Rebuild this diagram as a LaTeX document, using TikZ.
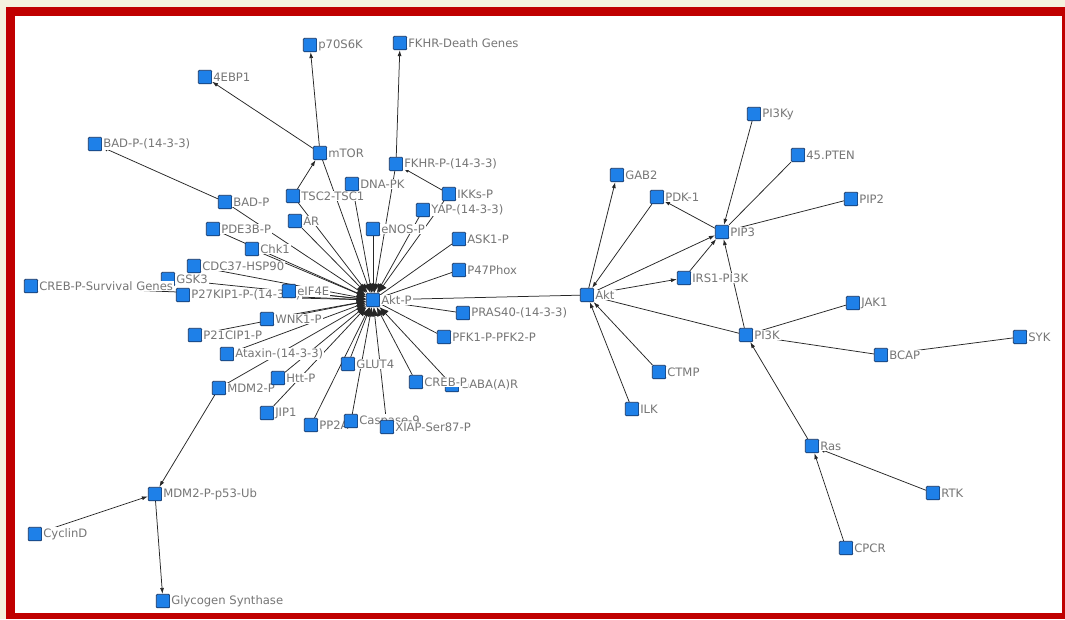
\documentclass[tikz,border=0pt]{standalone}
\usepackage{fontspec}
\setmainfont{DejaVu Sans}
\usetikzlibrary{arrows.meta,backgrounds}

\definecolor{nodeblue}{RGB}{30,128,232}
\definecolor{nodeedge}{RGB}{22,52,98}
\definecolor{labelgray}{RGB}{118,118,118}
\definecolor{framered}{RGB}{192,0,0}
\definecolor{paper}{RGB}{244,242,222}

\tikzset{
  sq/.style={shape=rectangle,draw=nodeedge,fill=nodeblue,minimum size=13.5pt,
             inner sep=0pt,line width=0.7pt,rounded corners=1pt,label distance=0.5pt},
  lbl/.style={text=labelgray,fill=white,inner sep=1pt,font=\fontsize{11.6}{12}\selectfont},
  link/.style={draw=black!85,line width=0.75pt},
  spoke/.style={link,-{Latex[length=9pt,width=8pt]}},
  >={Latex[length=6pt,width=4pt]}
}

\begin{document}
\begin{tikzpicture}[x=1pt,y=-1pt]

      \useasboundingbox (0,0) rectangle (1065,619);

      \begin{pgfonlayer}{background}
        \fill[paper] (0,0) rectangle (1065,619);
        \fill[framered] (6,7) rectangle (1065,619);
        \fill[white] (15,16) rectangle (1062,613);
      \end{pgfonlayer}

      % Akt-P hub and its neighbours
      \path node (aktp) at (373,300) [sq,label={[lbl]0:Akt-P}] {};
      \path node (mtor) at (320,153) [sq,label={[lbl]0:mTOR}] {};
      \path node (p70) at (310,45) [sq,label={[lbl]0:p70S6K}] {};
      \path node (ebp) at (205,77) [sq,label={[lbl]0:4EBP1}] {};
      \path node (badpp) at (95,144) [sq,label={[lbl]0:BAD-P-(14-3-3)}] {};
      \path node (badp) at (225,202) [sq,label={[lbl]0:BAD-P}] {};
      \path node (pde) at (213,229) [sq,label={[lbl]0:PDE3B-P}] {};
      \path node (tsc) at (293,196) [sq,label={[lbl]0:TSC2-TSC1}] {};
      \path node (ar) at (295,221) [sq,label={[lbl]0:AR}] {};
      \path node (fkhrdg) at (400,43) [sq,label={[lbl]0:FKHR-Death Genes}] {};
      \path node (fkhr) at (396,164) [sq,label={[lbl]0:FKHR-P-(14-3-3)}] {};
      \path node (dnapk) at (352,184) [sq,label={[lbl]0:DNA-PK}] {};
      \path node (ikk) at (449,194) [sq,label={[lbl]0:IKKs-P}] {};
      \path node (yap) at (423,210) [sq,label={[lbl]0:YAP-(14-3-3)}] {};
      \path node (chk) at (252,249) [sq,label={[lbl]0:Chk1}] {};
      \path node (cdc) at (194,266) [sq,label={[lbl]0:CDC37-HSP90}] {};
      \path node (enos) at (373,229) [sq,label={[lbl]0:eNOS-P}] {};
      \path node (ask) at (459,239) [sq,label={[lbl]0:ASK1-P}] {};
      \path node (p47) at (459,270) [sq,label={[lbl]0:P47Phox}] {};
      \path node (pras) at (463,313) [sq,label={[lbl]0:PRAS40-(14-3-3)}] {};
      \path node (pfk) at (444,337) [sq,label={[lbl]0:PFK1-P-PFK2-P}] {};
      \path node (gaba) at (452,385) [sq,label={[lbl]0:GABA(A)R}] {};
      \path node (creb) at (416,382) [sq,label={[lbl]0:CREB-P}] {};
      \path node (gsk) at (168,279) [sq,label={[lbl]0:GSK3}] {};
      \path node (crebsg) at (31,286) [sq,label={[lbl]0:CREB-P-Survival Genes}] {};
      \path node (p27) at (183,295) [sq,label={[lbl]0:P27KIP1-P-(14-3-3)}] {};
      \path node (eif) at (289,291) [sq,label={[lbl]0:eIF4E}] {};
      \path node (wnk) at (267,319) [sq,label={[lbl]0:WNK1-P}] {};
      \path node (p21) at (195,335) [sq,label={[lbl]0:P21CIP1-P}] {};
      \path node (atx) at (227,354) [sq,label={[lbl]0:Ataxin-(14-3-3)}] {};
      \path node (mdm) at (219,388) [sq,label={[lbl]0:MDM2-P}] {};
      \path node (htt) at (278,378) [sq,label={[lbl]0:Htt-P}] {};
      \path node (jip) at (267,413) [sq,label={[lbl]0:JIP1}] {};
      \path node (glut) at (348,364) [sq,label={[lbl]0:GLUT4}] {};
      \path node (pp2a) at (311,425) [sq,label={[lbl]0:PP2A}] {};
      \path node (casp) at (351,421) [sq,label={[lbl]0:Caspase-9}] {};
      \path node (xiap) at (387,427) [sq,label={[lbl]0:XIAP-Ser87-P}] {};
      \path node (mdmub) at (155,494) [sq,label={[lbl]0:MDM2-P-p53-Ub}] {};
      \path node (cyc) at (35,534) [sq,label={[lbl]0:CyclinD}] {};
      \path node (gly) at (163,601) [sq,label={[lbl]0:Glycogen Synthase}] {};

      % Akt side
      \path node (akt) at (587,295) [sq,label={[lbl]0:Akt}] {};
      \path node (pi3ky) at (754,114) [sq,label={[lbl]0:PI3Ky}] {};
      \path node (pten) at (798,155) [sq,label={[lbl]0:45.PTEN}] {};
      \path node (gab) at (617,175) [sq,label={[lbl]0:GAB2}] {};
      \path node (pdk) at (657,197) [sq,label={[lbl]0:PDK-1}] {};
      \path node (pip2) at (851,199) [sq,label={[lbl]0:PIP2}] {};
      \path node (pip3) at (722,232) [sq,label={[lbl]0:PIP3}] {};
      \path node (irs) at (684,278) [sq,label={[lbl]0:IRS1-PI3K}] {};
      \path node (jak) at (853,303) [sq,label={[lbl]0:JAK1}] {};
      \path node (pi3k) at (746,335) [sq,label={[lbl]0:PI3K}] {};
      \path node (bcap) at (881,355) [sq,label={[lbl]0:BCAP}] {};
      \path node (syk) at (1020,337) [sq,label={[lbl]0:SYK}] {};
      \path node (ctmp) at (659,372) [sq,label={[lbl]0:CTMP}] {};
      \path node (ilk) at (632,409) [sq,label={[lbl]0:ILK}] {};
      \path node (ras) at (812,446) [sq,label={[lbl]0:Ras}] {};
      \path node (rtk) at (933,493) [sq,label={[lbl]0:RTK}] {};
      \path node (cpcr) at (846,548) [sq,label={[lbl]0:CPCR}] {};

      \begin{pgfonlayer}{background}
        \foreach \src in {mtor,tsc,ar,dnapk,enos,fkhr,yap,ikk,badp,pde,chk,cdc,gsk,
                          p27,crebsg,eif,wnk,p21,atx,mdm,htt,jip,glut,pp2a,casp,xiap,creb,gaba}
          \draw[spoke] (\src) -- (aktp);
        \foreach \dst in {ask,p47,pras,pfk,akt}
          \draw[link] (aktp) -- (\dst);

        \draw[link,->] (mtor) -- (p70);
        \draw[link,->] (mtor) -- (ebp);
        \draw[link,->] (tsc) -- (mtor);
        \draw[link,->] (badp) -- (badpp);
        \draw[link,->] (fkhr) -- (fkhrdg);
        \draw[link,->] (ikk) -- (fkhr);
        \draw[link,->] (mdm) -- (mdmub);
        \draw[link,->] (cyc) -- (mdmub);
        \draw[link,->] (mdmub) -- (gly);

        \draw[link,->] (akt) -- (gab);
        \draw[link,->] (pdk) -- (akt);
        \draw[link,->] (pip3) -- (pdk);
        \draw[link,->] (akt) -- (pip3);
        \draw[link,->] (akt) -- (irs);
        \draw[link,->] (irs) -- (pip3);
        \draw[link,->] (pi3ky) -- (pip3);
        \draw[link,->] (pi3k) -- (pip3);
        \draw[link,->] (pi3k) -- (akt);
        \draw[link,->] (ctmp) -- (akt);
        \draw[link,->] (ilk) -- (akt);
        \draw[link,->] (ras) -- (pi3k);
        \draw[link,->] (rtk) -- (ras);
        \draw[link,->] (cpcr) -- (ras);
        \draw[link] (pten) -- (pip3);
        \draw[link] (pip2) -- (pip3);
        \draw[link] (jak) -- (pi3k);
        \draw[link] (bcap) -- (pi3k);
        \draw[link] (syk) -- (bcap);
      \end{pgfonlayer}
    \end{tikzpicture}
\end{document}
